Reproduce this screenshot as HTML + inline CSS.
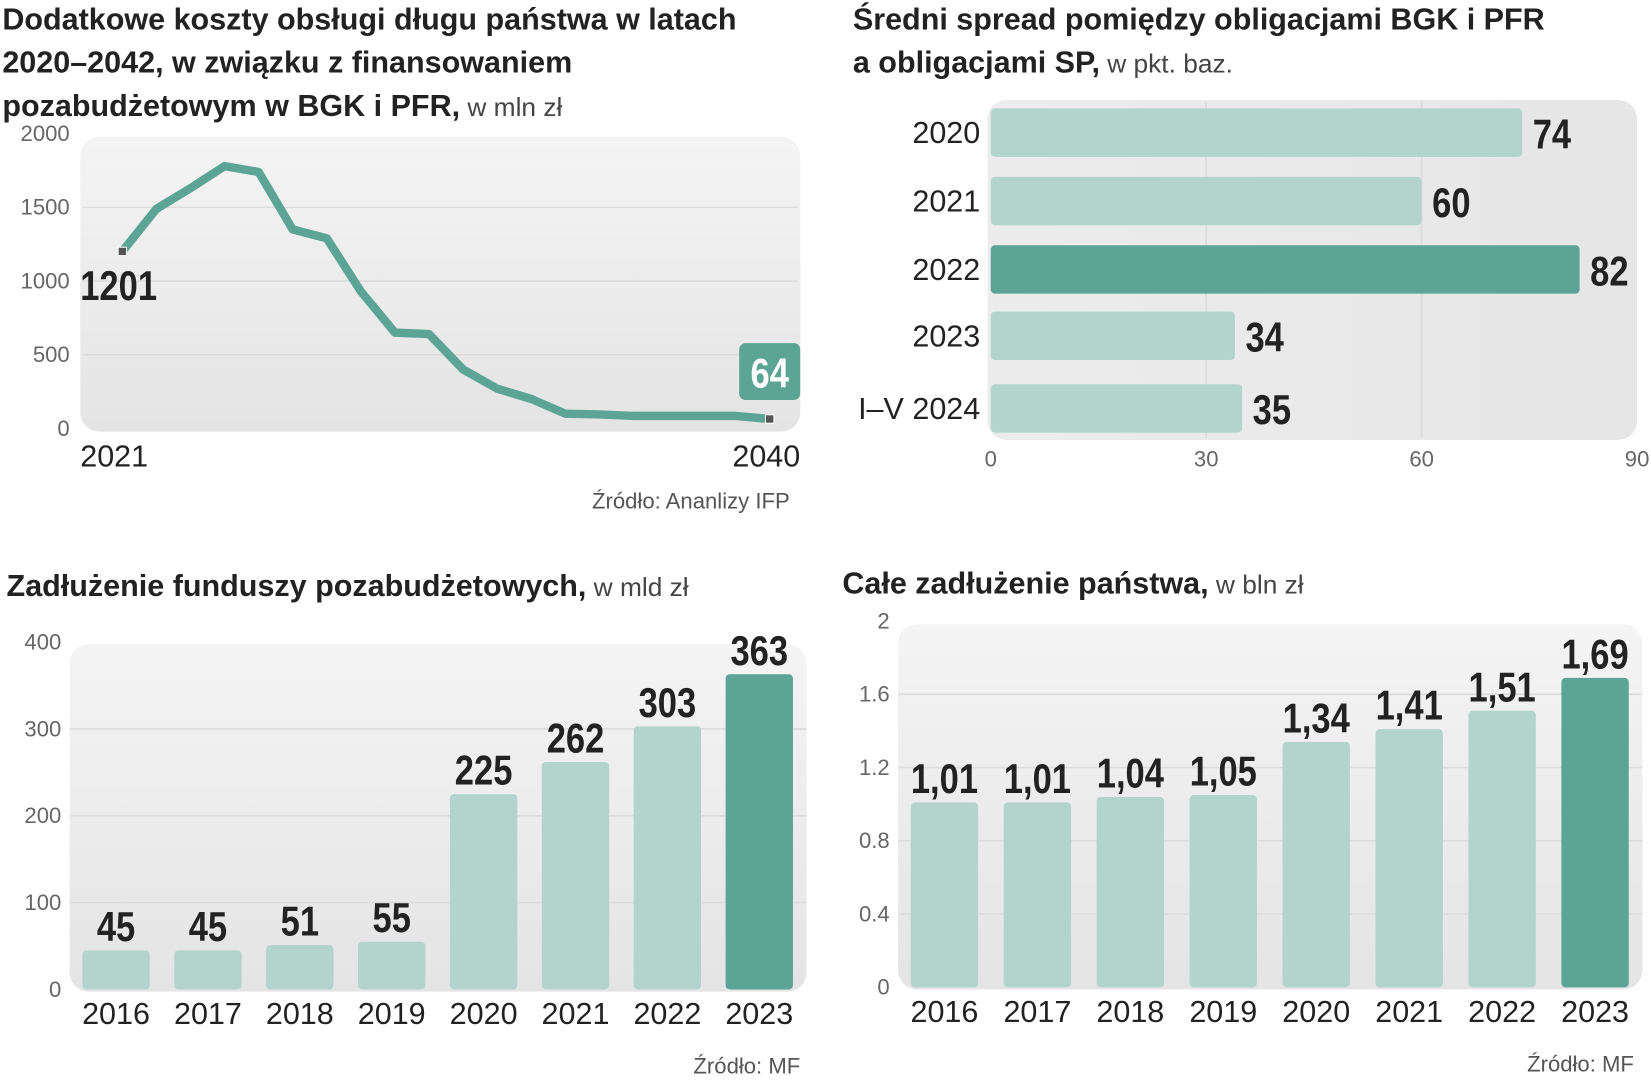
<!DOCTYPE html>
<html><head><meta charset="utf-8"><style>
html,body{margin:0;padding:0;background:#fff;}
svg{display:block;}
.t{font-family:"Liberation Sans Narrow","Liberation Sans",sans-serif;font-weight:bold;fill:#222;font-size:29px;}
.tn{font-family:"Liberation Sans","Noto Sans CJK JP",sans-serif;font-weight:normal;fill:#444;font-size:25px;}
.ax{font-family:"Liberation Sans",sans-serif;fill:#666;font-size:21px;}
.cat{font-family:"Liberation Sans",sans-serif;fill:#222;font-size:29px;}
.val{font-family:"Liberation Sans",sans-serif;font-weight:bold;fill:#222;font-size:40px;}
.src{font-family:"Liberation Sans",sans-serif;fill:#555;font-size:21px;}
</style></head><body>
<svg id="chart" width="1651" height="1080" viewBox="0 0 1568 1026" xmlns="http://www.w3.org/2000/svg">
<defs>
<linearGradient id="pg" x1="0" y1="0" x2="0" y2="1"><stop offset="0" stop-color="#f4f4f4"/><stop offset="1" stop-color="#e4e4e4"/></linearGradient>
<linearGradient id="pgh" x1="0" y1="0" x2="1" y2="0"><stop offset="0" stop-color="#ececec"/><stop offset="1" stop-color="#e6e6e6"/></linearGradient>
</defs>
<g id="root"></g>
</svg>
<script>
// Chart 1: debt servicing cost line
const lineYears = [2021,2022,2023,2024,2025,2026,2027,2028,2029,2030,2031,2032,2033,2034,2035,2036,2037,2038,2039,2040];
const lineValues = [1201,1490,1630,1780,1740,1350,1290,930,650,640,400,270,200,100,95,85,85,85,85,64];
const lineTicks = [0,500,1000,1500,2000];
// Chart 2: spread bars
const spreadCats = ["2020","2021","2022","2023","I–V 2024"];
const spreadVals = [74,60,82,34,35];
const spreadTicks = [0,30,60,90];
// Chart 3: extra-budgetary funds debt
const fundCats = ["2016","2017","2018","2019","2020","2021","2022","2023"];
const fundVals = [45,45,51,55,225,262,303,363];
const fundTicks = [0,100,200,300,400];
// Chart 4: total state debt
const debtCats = ["2016","2017","2018","2019","2020","2021","2022","2023"];
const debtVals = [1.01,1.01,1.04,1.05,1.34,1.41,1.51,1.69];
const debtTicks = [0,0.4,0.8,1.2,1.6,2];

const NS="http://www.w3.org/2000/svg";
const root=document.getElementById('root');
function mk(tag,attrs,parent,text){const e=document.createElementNS(NS,tag);for(const k in attrs)e.setAttribute(k,attrs[k]);if(text!==undefined)e.textContent=text;(parent||root).appendChild(e);return e;}
// condensed text: placed at (x,y) with horizontal squeeze
function ctext(x,y,cls,anchor,txt,parent,extra){
 const a=Object.assign({x:0,y:0,class:cls,'text-anchor':anchor,transform:'translate('+x+','+y+') scale(0.82,1)'},extra||{});
 return mk('text',a,parent,txt);
}
const LIGHT="#b2d4cd",DARK="#5ca595";

function title(x,y,bold,normal,name){const t=mk('text',{x:x,y:y,class:'t'});


mk('tspan',{},t,bold);if(normal){mk('tspan',{class:'tn'},t,normal);}return t;}
title(2,28,"Dodatkowe koszty obsługi długu państwa w latach",null,'title-line-1');
title(2,69,"2020–2042,  w związku z finansowaniem",null,'title-line-2');
title(2,110,"pozabudżetowym w BGK i PFR,"," w mln zł",'title-line-3');
title(810,28,"Średni spread pomiędzy obligacjami BGK i PFR",null,'spread-title-1');
title(810,69,"a obligacjami SP,"," w pkt. baz.",'spread-title-2');
title(6,566,"Zadłużenie  funduszy pozabudżetowych,"," w mld zł",'funds-title');
title(800,564,"Całe zadłużenie państwa,"," w bln zł",'debt-title');

// ---- Chart 1 line
(function(){
 const g=mk('g',{});
 const p=mk('rect',{x:76,y:130,width:684,height:280,rx:18,fill:'url(#pg)'},g);
 
 const y0=407,ppu=70/500,x0=116,x1=731;
 const Y=v=>y0-v*ppu, X=i=>x0+(x1-x0)*i/(lineYears.length-1);
 lineTicks.forEach(t=>{
  if(t>0&&t<2000){const l=mk('line',{x1:78,x2:758,y1:Y(t),y2:Y(t),stroke:'#dcdcdc','stroke-width':1.5},g);}
  const tx=mk('text',{x:66,y:Y(t)+7,class:'ax','text-anchor':'end'},g,String(t));
  
 });
 const pts=lineValues.map((v,i)=>X(i)+','+Y(v)).join(' ');
 const pl=mk('polyline',{points:pts,fill:'none',stroke:DARK,'stroke-width':8,'stroke-linejoin':'round'},g);
 
 [0,lineValues.length-1].forEach(i=>{const m=mk('rect',{x:X(i)-4,y:Y(lineValues[i])-4,width:8,height:8,fill:'#555',stroke:'#fff','stroke-width':1},g);
  });
 const l1=ctext(76,285,'val','start',String(lineValues[0]),g);
 
 const bx=mk('rect',{x:702,y:326,width:58,height:54,rx:6,fill:DARK},g);
 
 const l2=ctext(731,368,'val','middle',String(lineValues[lineValues.length-1]),g,{style:'fill:#fff'});
 
 const a=mk('text',{x:76,y:443,class:'cat'},g,String(lineYears[0]));
 
 const b=mk('text',{x:760,y:443,class:'cat','text-anchor':'end'},g,String(lineYears[lineYears.length-1]));
 
 const s=mk('text',{x:750,y:483,class:'src','text-anchor':'end'},g,"Źródło:  Ananlizy IFP");
 
})();

// ---- Chart 2 horizontal bars
(function(){
 const g=mk('g',{});
 const p=mk('rect',{x:938,y:95,width:617,height:323,rx:18,fill:'url(#pgh)'},g);
 
 const x0=941,ppu=(1555-941)/90;const X=v=>x0+v*ppu;
 spreadTicks.forEach(t=>{
  if(t>0&&t<90){const l=mk('line',{x1:X(t),x2:X(t),y1:97,y2:416,stroke:'#dcdcdc','stroke-width':1.5},g);}
  const tx=mk('text',{x:X(t),y:443,class:'ax','text-anchor':'middle'},g,String(t));
  
 });
 const cy=[126,191,256,319,388];
 spreadCats.forEach((c,i)=>{
  const r=mk('rect',{x:x0,y:cy[i]-23,width:X(spreadVals[i])-x0,height:46,rx:4,fill:i===2?DARK:LIGHT},g);
  
  const c1=mk('text',{x:931,y:cy[i]+10,class:'cat','text-anchor':'end'},g,c);
  
  const v=ctext(X(spreadVals[i])+10,cy[i]+15,'val','start',String(spreadVals[i]),g);
  
 });
})();

// ---- Vertical bar charts
function vbars(name,cats,vals,ticks,maxV,panel,y0,yTop,centers,fmt,tickFmt,axisX,srcX,srcY){
 const g=mk('g',{});
 const p=mk('rect',Object.assign({rx:18,fill:'url(#pg)'},panel),g);
 
 const ppu=(y0-yTop)/maxV;const Y=v=>y0-v*ppu;
 ticks.forEach(t=>{
  if(t>0&&t<maxV){const l=mk('line',{x1:panel.x,x2:panel.x+panel.width,y1:Y(t),y2:Y(t),stroke:'#dcdcdc','stroke-width':1.5},g);}
  const tx=mk('text',{x:axisX,y:Y(t)+7,class:'ax','text-anchor':'end'},g,tickFmt(t));
  
 });
 cats.forEach((c,i)=>{
  const cx=centers[0]+(centers[1]-centers[0])*i;
  const r=mk('rect',{x:cx-32,y:Y(vals[i]),width:64,height:y0-Y(vals[i]),rx:4,fill:i===cats.length-1?DARK:LIGHT},g);
  
  const v=ctext(cx,Y(vals[i])-9,'val','middle',fmt(vals[i]),g);
  
  const cl=mk('text',{x:cx,y:y0+33,class:'cat','text-anchor':'middle'},g,c);
  
 });
 const s=mk('text',{x:srcX,y:srcY,class:'src','text-anchor':'end'},g,"Źródło: MF");
 
}
vbars('funds-bar-chart',fundCats,fundVals,fundTicks,400,{x:66,y:612,width:700,height:330},940,610,[110,197.3],v=>String(v),t=>String(t),58,760,1020);
vbars('debt-bar-chart',debtCats,debtVals,debtTicks,2,{x:853,y:593,width:707,height:347},938,590,[897,985.3],v=>v.toFixed(2).replace('.',','),t=>String(t),845,1552,1018);
</script>
</body></html>
